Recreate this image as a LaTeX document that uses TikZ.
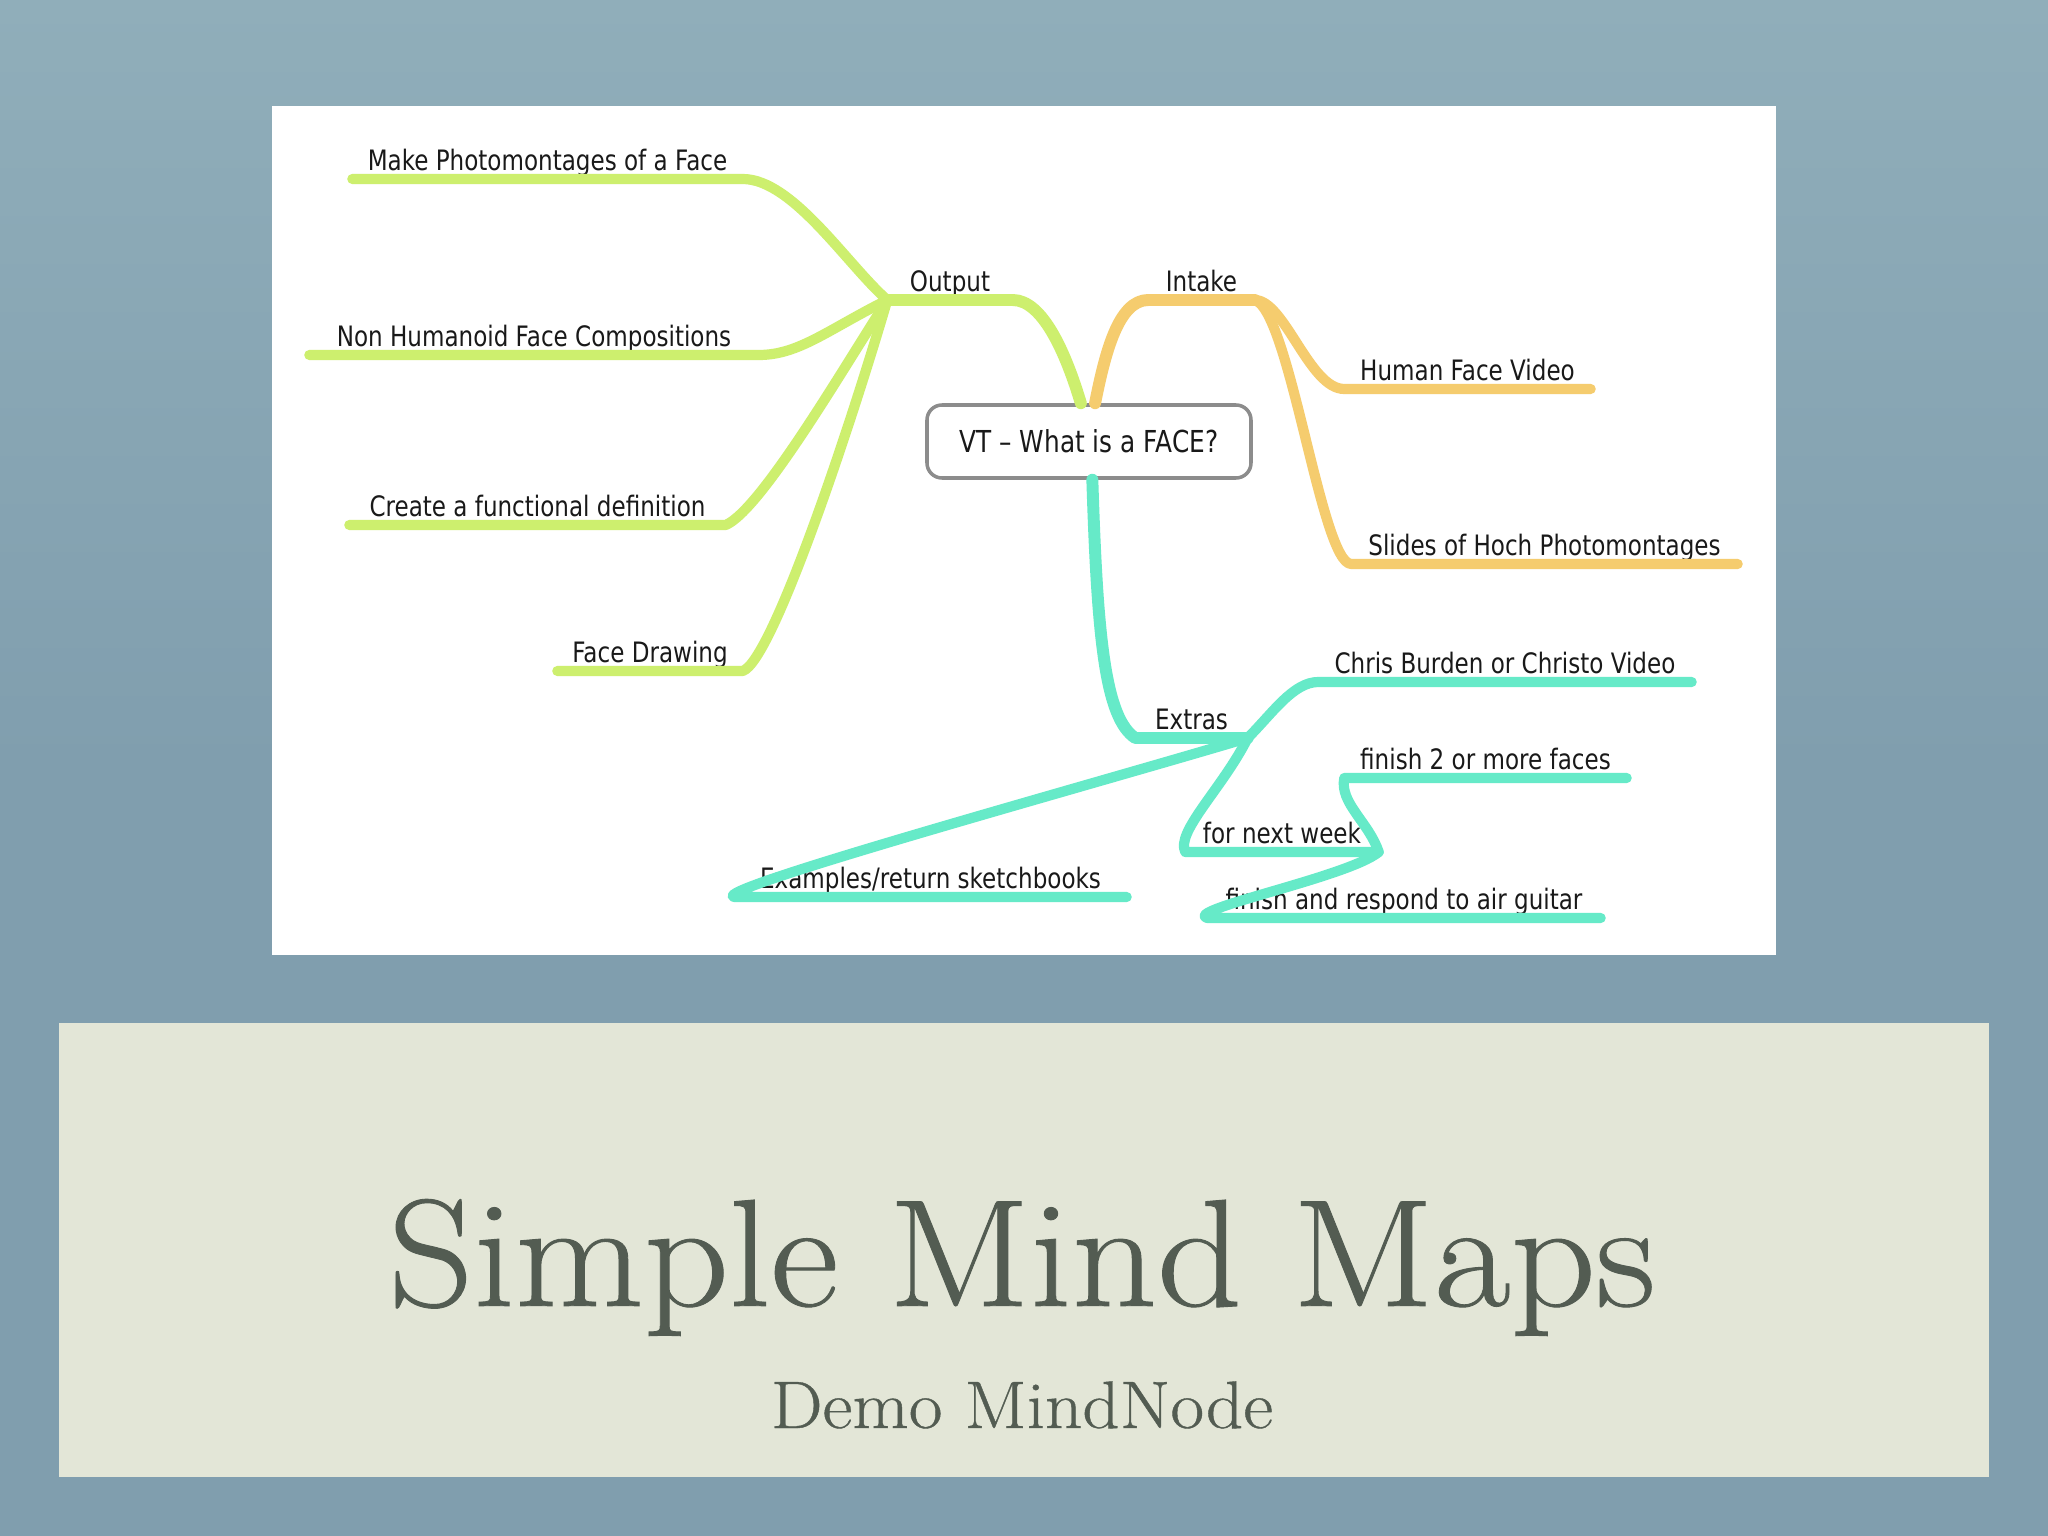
\documentclass[tikz,border=0pt]{standalone}
\usepackage{fontspec}
\usetikzlibrary{positioning}
\newfontfamily\mapfont[FakeStretch=0.82]{DejaVu Sans}
\newfontfamily\titlefont[FakeStretch=1.09, FakeBold=0.6]{Latin Modern Roman}
\definecolor{slate}{HTML}{809EAE}
\definecolor{slatetop}{HTML}{90AEBA}
\definecolor{paper}{HTML}{E3E6D7}
\definecolor{ink}{HTML}{535C52}
\definecolor{lime}{HTML}{CDEF6E}
\definecolor{amber}{HTML}{F5CC6E}
\definecolor{aqua}{HTML}{66EAC8}
\tikzstyle{leaf} = [anchor=south, inner xsep=0pt, inner ysep=0.8pt, text height=6pt, text depth=1.5pt, font=\mapfont\fontsize{8}{9}\selectfont, text=black!90]
\tikzstyle{root} = [rectangle, rounded corners=0.15cm, minimum width=3.24cm, minimum height=0.73cm, draw=black!45, line width=1pt, font=\mapfont\fontsize{8.6}{10}\selectfont, text=black!90]
\tikzstyle{branch} = [line width=2.9pt, line cap=round, line join=round]
\tikzstyle{trunk} = [line width=3.4pt, line cap=round, line join=round]

\begin{document}
\begin{tikzpicture}
\useasboundingbox (0,0) rectangle (20.48,-15.36);
\shade[top color=slatetop, bottom color=slate, middle color=slate] (0,0) rectangle (20.48,-15.36);
\fill[white] (2.72,-1.06) rectangle (17.76,-9.55);
\fill[paper] (0.59,-10.23) rectangle (19.89,-14.77);

% centre
\node (c) [root] at (10.89,-4.415) {VT – What is a FACE?};

% output side
\node (out) [leaf, minimum width=1.24cm] at (9.50,-3.00) {Output};
\node (o1) [leaf, minimum width=3.89cm] at (5.475,-1.79) {Make Photomontages of a Face};
\node (o2) [leaf, minimum width=4.48cm] at (5.34,-3.55) {Non Humanoid Face Compositions};
\node (o3) [leaf, minimum width=3.75cm] at (5.375,-5.25) {Create a functional definition};
\node (o4) [leaf, minimum width=1.84cm] at (6.50,-6.71) {Face Drawing};
\draw [trunk, lime] (out.south west) -- (out.south east) .. controls +(0.3,0) and +(-0.15,0.5) .. (c.102);
\draw [branch, lime] (o1.south west) -- (o1.south east) .. controls +(0.5,0) and +(-0.4,0.35) .. (out.south west);
\draw [branch, lime] (o2.south west) -- (o2.south east) .. controls +(0.4,0) and +(-0.6,-0.3) .. (out.south west);
\draw [branch, lime] (o3.south west) -- (o3.south east) .. controls +(0.35,0.15) and +(-0.45,-0.7) .. (out.south west);
\draw [branch, lime] (o4.south west) -- (o4.south east) .. controls +(0.3,0.1) and +(-0.35,-1.2) .. (out.south west);

% intake side
\node (in) [leaf, minimum width=1.05cm] at (12.015,-3.00) {Intake};
\node (i1) [leaf, minimum width=2.45cm] at (14.675,-3.89) {Human Face Video};
\node (i2) [leaf, minimum width=3.85cm] at (15.445,-5.64) {Slides of Hoch Photomontages};
\draw [trunk, amber] (c.81) .. controls +(0.1,0.5) and +(-0.3,0) .. (in.south west) -- (in.south east);
\draw [branch, amber] (in.south east) .. controls +(0.3,0) and +(-0.35,0) .. (i1.south west) -- (i1.south east);
\draw [branch, amber] (in.south east) .. controls +(0.35,-0.1) and +(-0.3,0) .. (i2.south west) -- (i2.south east);

% extras
\node (ex) [leaf, minimum width=1.11cm] at (11.915,-7.38) {Extras};
\node (e1) [leaf, minimum width=3.72cm] at (15.05,-6.82) {Chris Burden or Christo Video};
\node (e2) [leaf, minimum width=3.91cm] at (9.305,-8.97) {Examples/return sketchbooks};
\node (e3) [leaf, minimum width=1.92cm] at (12.82,-8.52) {for next week};
\node (n1) [leaf, minimum width=2.81cm] at (14.855,-7.78) {finish 2 or more faces};
\node (n2) [leaf, minimum width=3.92cm] at (14.04,-9.18) {finish and respond to air guitar};
\draw [trunk, aqua] (c.275) .. controls +(0.05,-1.6) and +(-0.3,0.2) .. (ex.south west) -- (ex.south east);
\draw [branch, aqua] (ex.south east) .. controls +(0.25,0.25) and +(-0.25,0) .. (e1.south west) -- (e1.south east);
\draw [branch, aqua] (ex.south east) .. controls +(-1.5,-0.45) and +(-0.3,0.06) .. (e2.south west) -- (e2.south east);
\draw [branch, aqua] (ex.south east) .. controls +(-0.25,-0.5) and +(-0.1,0.2) .. (e3.south west) -- (e3.south east);
\draw [branch, aqua] (e3.south east) .. controls +(-0.1,0.3) and +(-0.05,-0.25) .. (n1.south west) -- (n1.south east);
\draw [branch, aqua] (e3.south east) .. controls +(-0.3,-0.25) and +(-0.25,0.08) .. (n2.south west) -- (n2.south east);

% title
\node (title) [anchor=base, text=ink, font=\titlefont\fontsize{43.5}{52}\selectfont] at (10.22,-13.06) {Simple Mind Maps};
\node (sub) [anchor=base, text=ink, font=\titlefont\fontsize{19.1}{23}\selectfont] at (10.22,-14.28) {Demo MindNode};
\end{tikzpicture}
\end{document}
